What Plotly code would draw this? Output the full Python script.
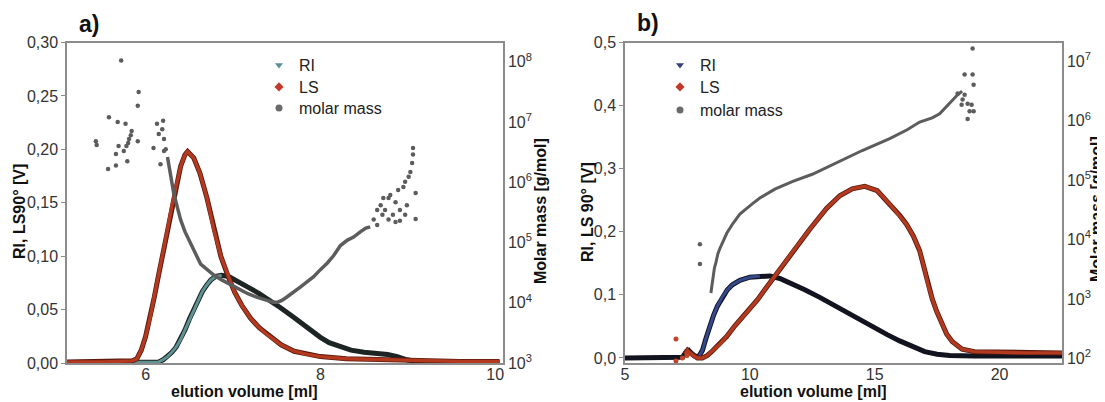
import numpy as np
import plotly.graph_objects as go

# ----------------------------
# Panel a) data
# ----------------------------
ri_a_x = [5.1, 5.5, 5.9, 6.1, 6.15, 6.2, 6.25, 6.3, 6.35, 6.4, 6.45, 6.5, 6.55, 6.6, 6.65,
          6.7, 6.75, 6.8, 6.87, 6.95, 7.05, 7.17, 7.3, 7.4, 7.54, 7.69, 7.8, 7.9, 8.0, 8.1,
          8.23, 8.35, 8.5, 8.65, 8.77, 8.88, 8.99, 9.1, 9.22, 9.5, 10.05]
ri_a_y = [0.0005, 0.0005, 0.0005, 0.0007, 0.001, 0.003, 0.006, 0.010, 0.015, 0.022, 0.031,
          0.041, 0.050, 0.059, 0.067, 0.073, 0.078, 0.081, 0.082, 0.081, 0.077, 0.071, 0.065,
          0.060, 0.052, 0.043, 0.036, 0.030, 0.024, 0.019, 0.015, 0.012, 0.010, 0.009, 0.008,
          0.006, 0.003, 0.0015, 0.001, 0.0005, 0.0005]

ls_a_x = [5.1, 5.5, 5.85, 5.9, 5.95, 6.0, 6.05, 6.1, 6.15, 6.2, 6.25, 6.3, 6.35, 6.4, 6.45,
          6.48, 6.55, 6.62, 6.7, 6.78, 6.86, 6.94, 7.02, 7.1, 7.2, 7.3, 7.4, 7.55, 7.7, 7.85,
          8.0, 8.3, 8.7, 9.2, 9.6, 10.05]
ls_a_y = [0.001, 0.001, 0.002, 0.004, 0.012, 0.025, 0.042, 0.062, 0.083, 0.103, 0.125, 0.147,
          0.167, 0.184, 0.195, 0.198, 0.192, 0.178, 0.155, 0.125, 0.100, 0.082, 0.066, 0.054,
          0.042, 0.033, 0.026, 0.017, 0.011, 0.008, 0.006, 0.004, 0.003, 0.002, 0.0015, 0.0015]

# molar mass, log10(g/mol)
mm_a_curve_x = [6.25, 6.27, 6.29, 6.32, 6.36, 6.4, 6.45, 6.5, 6.55, 6.63, 6.71, 6.78, 6.87,
                6.97, 7.07, 7.17, 7.28, 7.39, 7.46, 7.51, 7.56, 7.62, 7.7, 7.77, 7.85, 7.92,
                8.0, 8.08, 8.15, 8.23, 8.31, 8.38, 8.46, 8.52, 8.57]
mm_a_curve_log = [6.42, 6.25, 6.05, 5.83, 5.6, 5.38, 5.18, 5.02, 4.88, 4.64, 4.54, 4.46, 4.38,
                  4.30, 4.22, 4.15, 4.09, 4.04, 4.01, 4.01, 4.04, 4.10, 4.18, 4.26, 4.35, 4.43,
                  4.55, 4.66, 4.78, 4.95, 5.04, 5.09, 5.18, 5.24, 5.26]
mm_a_scatter_x = [5.43, 5.44, 5.57, 5.58, 5.66, 5.68, 5.66, 5.72, 5.77, 5.79, 5.75, 5.81, 5.84,
                  5.69, 5.91, 5.92, 5.91, 6.09, 6.13, 6.15, 6.2, 6.19, 6.21, 6.17, 6.21, 6.23,
                  5.78, 5.8, 5.83,
                  9.06, 9.06, 9.05, 9.03, 9.01, 8.97, 8.95, 8.89, 9.09, 8.80, 8.78, 8.86, 8.72,
                  8.69, 8.99, 8.91, 8.74, 8.65, 8.71, 8.83, 8.97, 9.09, 8.78, 8.91, 8.86, 8.61,
                  8.65]
mm_a_scatter_log = [6.68, 6.62, 6.22, 7.08, 6.28, 7.0, 6.47, 8.02, 6.97, 6.35, 6.52, 6.72, 6.85,
                    6.6, 6.68, 7.5, 7.27, 6.57, 6.97, 6.8, 7.02, 6.88, 6.72, 6.3, 6.52, 6.55,
                    6.6, 6.65, 6.78,
                    6.57, 6.46, 6.32, 6.17, 6.09, 6.01, 5.92, 5.87, 5.82, 5.79, 5.74, 5.67, 5.74,
                    5.62, 5.62, 5.54, 5.54, 5.54, 5.46, 5.46, 5.46, 5.39, 5.38, 5.36, 5.34, 5.38,
                    5.29]

# ----------------------------
# Panel b) data
# ----------------------------
ri_b_x = [5.0, 6.0, 7.0, 7.3, 7.45, 7.55, 7.65, 7.8, 7.95, 8.1, 8.25, 8.4, 8.55, 8.7, 8.9,
          9.1, 9.3, 9.6, 10.0, 10.4, 10.8, 11.2, 11.7, 12.2, 12.8, 13.3, 13.8, 14.4, 14.9,
          15.5, 16.0, 16.5, 17.0, 17.5, 18.0, 19.0, 20.0, 21.0, 22.5]
ri_b_y = [0.0, 0.0, 0.0, 0.001, 0.010, 0.012, 0.008, 0.003, 0.002, 0.012, 0.032, 0.052, 0.068,
          0.082, 0.097, 0.108, 0.116, 0.123, 0.128, 0.130, 0.130, 0.126, 0.118, 0.108, 0.096,
          0.085, 0.073, 0.060, 0.048, 0.037, 0.027, 0.018, 0.010, 0.006, 0.004, 0.003, 0.003,
          0.003, 0.003]

ls_b_x = [7.4, 7.5, 7.6, 7.75, 7.9, 8.1, 8.3, 8.5, 8.8, 9.07, 9.4, 9.87, 10.3, 10.67, 11.2,
          11.73, 12.4, 13.07, 13.6, 14.1, 14.6, 15.1, 15.6, 16.0, 16.27, 16.55, 16.8, 17.0,
          17.12, 17.3, 17.48, 17.7, 17.88, 18.1, 18.5, 19.0, 20.0, 21.0, 22.5]
ls_b_y = [0.006, 0.012, 0.008, 0.003, 0.0, 0.0, 0.004, 0.011, 0.022, 0.034, 0.051, 0.072,
          0.092, 0.112, 0.141, 0.169, 0.204, 0.237, 0.257, 0.268, 0.272, 0.265, 0.244, 0.226,
          0.212, 0.193, 0.170, 0.140, 0.118, 0.094, 0.074, 0.054, 0.038, 0.026, 0.014, 0.010,
          0.009, 0.008, 0.008]
ls_b_noise_x = [7.04, 7.04, 7.48, 7.3]
ls_b_noise_y = [0.030, -0.005, 0.004, 0.0]

mm_b_curve_x = [8.44, 8.48, 8.52, 8.58, 8.64, 8.72, 8.8, 8.88, 9.08, 9.32, 9.6, 10.12, 10.4,
                11.0, 11.72, 12.5, 13.4, 14.5, 15.6, 16.3, 16.8, 17.3, 17.6, 18.0, 18.3, 18.5]
mm_b_curve_log = [3.10, 3.22, 3.42, 3.52, 3.61, 3.76, 3.85, 3.92, 4.11, 4.27, 4.43, 4.61, 4.70,
                  4.85, 4.98, 5.10, 5.28, 5.50, 5.70, 5.85, 5.98, 6.05, 6.12, 6.30, 6.43, 6.50]
mm_b_scatter_x = [8.0, 8.0, 18.92, 18.6, 18.92, 18.96, 18.32, 18.6, 18.52, 18.72, 18.88, 18.48,
                  18.8, 18.72, 18.96]
mm_b_scatter_log = [3.92, 3.59, 7.22, 6.78, 6.78, 6.61, 6.46, 6.44, 6.36, 6.29, 6.27, 6.27,
                    6.16, 6.03, 6.16]

# axis ticks
y_a_ticks = [0.0, 0.05, 0.10, 0.15, 0.20, 0.25, 0.30]
y_b_ticks = [0.0, 0.1, 0.2, 0.3, 0.4, 0.5]
mm_a_exp = [3, 4, 5, 6, 7, 8]
mm_b_exp = [2, 3, 4, 5, 6, 7]

FONT = "Liberation Sans, Arial, sans-serif"
AXC = "#8c8c8c"
RED = "#b3391f"
GRAY = "#5c5c5c"

# the page body keeps its default 8px margin, so the figure is drawn 8px in from
# the window's top-left corner; positions below are given in window pixels
OFF = 8
W, H = 1105 - OFF, 402 - OFF


def px(x):
    return (x - OFF) / W


def py(y):
    return 1 - (y - OFF) / H


def pk(ys):
    """index of the maximum of a curve (used to split rise/fall colours)"""
    return int(np.argmax(ys))


fig = go.Figure()

# ---- panel a
k = pk(ri_a_y)
fig.add_trace(go.Scatter(x=ri_a_x, y=ri_a_y, mode="lines", line=dict(color="#1c2424", width=5),
                         showlegend=False, xaxis="x", yaxis="y"))
fig.add_trace(go.Scatter(x=ri_a_x[:k + 1], y=ri_a_y[:k + 1], mode="lines",
                         line=dict(color="#5f9393", width=3), showlegend=False, xaxis="x", yaxis="y"))
fig.add_trace(go.Scatter(x=ls_a_x, y=ls_a_y, mode="lines", line=dict(color="#5a1a10", width=5),
                         showlegend=False, xaxis="x", yaxis="y"))
fig.add_trace(go.Scatter(x=ls_a_x, y=ls_a_y, mode="lines", line=dict(color=RED, width=3.4),
                         showlegend=False, xaxis="x", yaxis="y"))
fig.add_trace(go.Scatter(x=mm_a_curve_x, y=10 ** np.array(mm_a_curve_log), mode="lines",
                         line=dict(color=GRAY, width=3.5), showlegend=False, xaxis="x", yaxis="y2"))
fig.add_trace(go.Scatter(x=mm_a_scatter_x, y=10 ** np.array(mm_a_scatter_log), mode="markers",
                         marker=dict(color=GRAY, size=4.5), showlegend=False, xaxis="x", yaxis="y2"))

# ---- panel b
k = pk(ri_b_y)
fig.add_trace(go.Scatter(x=ri_b_x, y=ri_b_y, mode="lines", line=dict(color="#11131f", width=5),
                         showlegend=False, xaxis="x2", yaxis="y3"))
fig.add_trace(go.Scatter(x=ri_b_x[8:k + 1], y=ri_b_y[8:k + 1], mode="lines",
                         line=dict(color="#35488c", width=3), showlegend=False, xaxis="x2", yaxis="y3"))
fig.add_trace(go.Scatter(x=ls_b_x, y=ls_b_y, mode="lines", line=dict(color="#5a1a10", width=5),
                         showlegend=False, xaxis="x2", yaxis="y3"))
fig.add_trace(go.Scatter(x=ls_b_x, y=ls_b_y, mode="lines", line=dict(color=RED, width=3.4),
                         showlegend=False, xaxis="x2", yaxis="y3"))
fig.add_trace(go.Scatter(x=ls_b_noise_x, y=ls_b_noise_y, mode="markers",
                         marker=dict(color="#c0452a", size=5), showlegend=False, xaxis="x2", yaxis="y3"))
fig.add_trace(go.Scatter(x=mm_b_curve_x, y=10 ** np.array(mm_b_curve_log), mode="lines",
                         line=dict(color=GRAY, width=3), showlegend=False, xaxis="x2", yaxis="y4"))
fig.add_trace(go.Scatter(x=mm_b_scatter_x, y=10 ** np.array(mm_b_scatter_log), mode="markers",
                         marker=dict(color=GRAY, size=4.5), showlegend=False, xaxis="x2", yaxis="y4"))

# ---- legend entries: one small legend per entry so the spacing can follow the reference
legend_rows = [
    ("RI", "triangle-down", "#5b8f95", "x", "y", 259, 65),
    ("LS", "diamond", "#c0392b", "x", "y", 259, 87),
    ("molar mass", "circle", "#6a6a6a", "x", "y", 259, 108),
    ("RI", "triangle-down", "#34407a", "x2", "y3", 660, 65),
    ("LS", "diamond", "#c0392b", "x2", "y3", 660, 87),
    ("molar mass", "circle", "#6a6a6a", "x2", "y3", 660, 110),
]
legends = {}
for i, (name, sym, col, xa, ya, lx, ly) in enumerate(legend_rows):
    lname = "legend" if i == 0 else f"legend{i + 1}"
    fig.add_trace(go.Scatter(x=[None], y=[None], mode="markers", name=name,
                             marker=dict(symbol=sym, color=col, size=7),
                             legend=lname, xaxis=xa, yaxis=ya))
    legends[lname] = dict(x=px(lx), y=py(ly), xanchor="left", yanchor="middle",
                          bgcolor="rgba(0,0,0,0)", font=dict(size=16, color="#222"),
                          itemwidth=30, borderwidth=0)

ax = dict(showline=True, linecolor=AXC, linewidth=1.5, showgrid=False, zeroline=False,
          automargin=False, tickfont=dict(size=16, color="#333"))
yax = dict(ax, ticks="outside", ticklen=4, tickcolor=AXC)
yrax = dict(ax, ticks="", ticklabelstandoff=0)
xax = dict(ax, ticks="", ticklabelstandoff=-4)
ydom = [py(363), py(42.5)]
title_font = dict(size=16, color="#111")

# axis titles placed as text so their spots follow the reference
titles = [
    ("<b>RI, LS90° [V]</b>", 19, 212, -90),
    ("<b>Molar mass [g/mol]</b>", 540, 211, -90),
    ("<b>RI, LS 90° [V]</b>", 587, 212, -90),
    ("<b>Molar mass [g/mol]</b>", 1096, 209, -90),
    ("<b>elution volume [ml]</b>", 244, 391, 0),
    ("<b>elution volume [ml]</b>", 813, 391, 0),
]
annotations = [
    dict(text=t, x=px(x), y=py(y), xref="paper", yref="paper", xanchor="center",
         yanchor="middle", textangle=a, showarrow=False, font=title_font)
    for t, x, y, a in titles
]
annotations += [
    dict(text="<b>a)</b>", x=px(77), y=py(24), xref="paper", yref="paper",
         xanchor="left", yanchor="middle", showarrow=False, font=dict(size=23, color="#111")),
    dict(text="<b>b)</b>", x=px(635), y=py(23), xref="paper", yref="paper",
         xanchor="left", yanchor="middle", showarrow=False, font=dict(size=23, color="#111")),
]

fig.update_layout(
    width=W, height=H,
    margin=dict(l=0, r=0, t=0, b=0),
    paper_bgcolor="white", plot_bgcolor="white",
    font=dict(family=FONT, size=16, color="#222"),
    separators=", ",
    xaxis=dict(xax, domain=[px(67), px(503)], range=[5.1, 10.09], tickvals=[6, 8, 10],
               anchor="y", mirror=True),
    yaxis=dict(yax, domain=ydom, range=[0, 0.30], tickvals=y_a_ticks, tickformat=".2f",
               anchor="x"),
    yaxis2=dict(yrax, overlaying="y", side="right", type="log", range=[3, 8.32], anchor="x",
                tickvals=[10 ** e for e in mm_a_exp],
                ticktext=[f"10<sup>{e}</sup>" for e in mm_a_exp]),
    xaxis2=dict(xax, domain=[px(625), px(1062)], range=[5, 22.5], tickvals=[5, 10, 15, 20],
                anchor="y3", mirror=True),
    yaxis3=dict(yax, domain=ydom, range=[-0.008, 0.5], tickvals=y_b_ticks, tickformat=".1f",
                anchor="x2"),
    yaxis4=dict(yrax, overlaying="y3", side="right", type="log", range=[1.92, 7.32], anchor="x2",
                tickvals=[10 ** e for e in mm_b_exp],
                ticktext=[f"10<sup>{e}</sup>" for e in mm_b_exp]),
    annotations=annotations,
)
fig.update_layout(**legends)

fig.write_html("out.html")
